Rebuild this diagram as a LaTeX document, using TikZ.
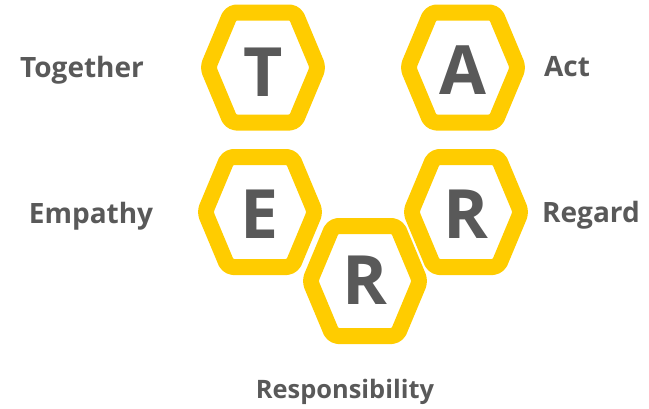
\documentclass[tikz,border=0pt]{standalone}
\usepackage{fontspec}
\setmainfont{Open Sans}
\definecolor{hexyellow}{HTML}{FFCC00}
\definecolor{txtgray}{HTML}{595959}
\tikzset{
  hexline/.style={draw=hexyellow, line width=16pt, line join=round, rounded corners=5pt},
  bigletter/.style={text=txtgray, font=\fontsize{68}{68}\selectfont\bfseries, inner sep=0pt, anchor=base},
  word/.style={text=txtgray, font=\fontsize{28}{28}\selectfont\bfseries, inner sep=0pt, anchor=base},
  smallword/.style={word, font=\fontsize{25.4}{25.4}\selectfont\bfseries}
}
\newcommand{\hexagonat}[1]{%
  \draw[hexline] ([shift={(-55pt,0pt)}]#1) -- ([shift={(-32pt,55pt)}]#1) -- ([shift={(32pt,55pt)}]#1) -- ([shift={(55pt,0pt)}]#1) -- ([shift={(32pt,-55pt)}]#1) -- ([shift={(-32pt,-55pt)}]#1) -- cycle;}
\begin{document}
\begin{tikzpicture}[x=1pt,y=1pt]
\useasboundingbox (0,0) rectangle (649,-408);
\coordinate (cT) at (263,-67.5);
\coordinate (cA) at (463,-67.5);
\coordinate (cE) at (260,-212);
\coordinate (cR1) at (466,-212);
\coordinate (cR2) at (365,-281);
\hexagonat{cT}
\hexagonat{cA}
\hexagonat{cE}
\hexagonat{cR2}
\hexagonat{cR1}
\node[bigletter] (T) at (263,-96) {T};
\node[bigletter] (A) at (463,-94) {A};
\node[bigletter] (E) at (260,-238) {E};
\node[bigletter] (R1) at (466,-238) {R};
\node[bigletter] (R2) at (365,-304) {R};
\node[word] (together) at (82,-77) {Together};
\node[word] (act) at (567,-76) {Act};
\node[word] (empathy) at (91,-223) {Empathy};
\node[word] (regard) at (591,-222) {Regard};
\node[smallword] (resp) at (345,-398) {Responsibility};
\end{tikzpicture}
\end{document}
